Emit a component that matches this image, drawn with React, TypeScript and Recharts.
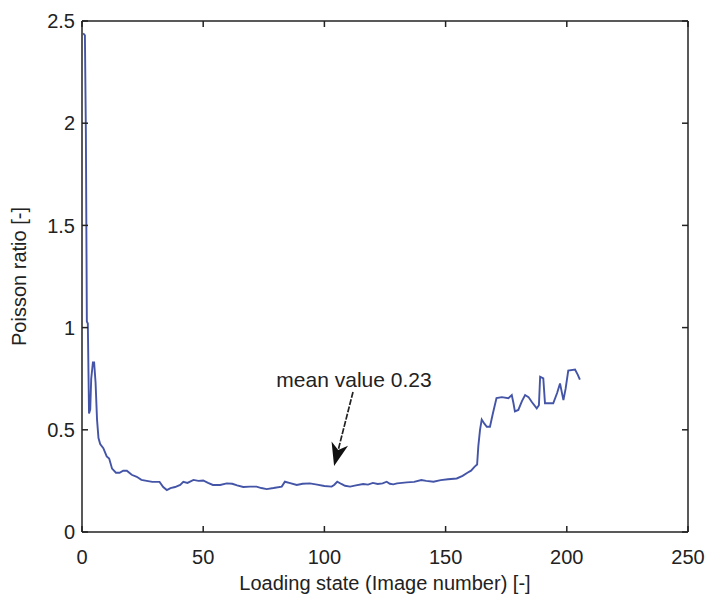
import React from "react";
import { LineChart, Line, XAxis, YAxis, ReferenceLine, Label } from "recharts";

const loadingState = [
  0.5, 1.2, 1.6, 2.0, 2.4, 2.9, 3.4, 3.8, 4.5, 5.0, 5.6, 6.2, 6.8, 7.5, 8.8, 10.2, 11.2, 12.4, 14.0, 15.5,
  17.0, 18.5, 20.5, 22.6, 24.5, 26.7, 29, 32, 33.5, 35, 36.5, 38.4, 40.5, 41.8, 43.5, 46, 48, 50, 52, 54,
  57, 59.7, 62, 64, 66.5, 69.3, 72, 74, 76.2, 79, 82.4, 83.7, 85.5, 88.6, 91, 94, 97, 100, 103, 104,
  105.3, 107, 108.5, 110.6, 113, 116, 118, 120, 122, 124, 125.7, 127, 128.4, 130, 134, 137, 140, 142, 145, 148,
  151, 154.6, 157, 159, 160.5, 162.0, 163.0, 163.5, 164.2, 164.9, 166, 167, 168.3, 169.5, 171, 173.2, 175.9, 177.3, 178.0, 178.6,
  180, 181.5, 182.8, 184.2, 185.5, 187.6, 188.5, 189, 190.3, 191, 194.4, 196, 197.2, 198.6, 199.5, 200.6, 203.4, 204.5, 205.4,
];

const poissonRatio = [
  2.44, 2.43, 1.95, 1.03, 1.02, 0.58, 0.6, 0.75, 0.83, 0.83, 0.73, 0.55, 0.46, 0.43, 0.41, 0.37, 0.36, 0.31, 0.29, 0.29,
  0.3, 0.3, 0.28, 0.27, 0.255, 0.25, 0.245, 0.245, 0.22, 0.205, 0.215, 0.22, 0.23, 0.245, 0.24, 0.255, 0.25, 0.252, 0.24, 0.23,
  0.23, 0.238, 0.236, 0.228, 0.22, 0.222, 0.222, 0.215, 0.21, 0.215, 0.222, 0.246, 0.24, 0.23, 0.236, 0.238, 0.232, 0.225, 0.222, 0.23,
  0.246, 0.235, 0.226, 0.222, 0.228, 0.235, 0.232, 0.24, 0.235, 0.238, 0.246, 0.236, 0.233, 0.238, 0.243, 0.245, 0.254, 0.25, 0.246, 0.254,
  0.258, 0.262, 0.275, 0.29, 0.3, 0.32, 0.33, 0.42, 0.5, 0.55, 0.53, 0.515, 0.515, 0.58, 0.655, 0.66, 0.655, 0.67, 0.63, 0.59,
  0.597, 0.64, 0.67, 0.66, 0.637, 0.605, 0.62, 0.76, 0.752, 0.63, 0.63, 0.68, 0.727, 0.645, 0.7, 0.79, 0.795, 0.77, 0.745,
];

const xTicks = [0, 50, 100, 150, 200, 250];
const yTicks = [0, 0.5, 1, 1.5, 2, 2.5];

const arrowTail = { x: 111.8, y: 0.685 };
const arrowTip = { x: 104, y: 0.323 };
const annotationText = "mean value 0.23";

const xTitle = "Loading state (Image number) [-]";
const yTitle = "Poisson ratio [-]";

const data = loadingState.map((x, i) => ({ x, y: poissonRatio[i] }));

const FONT = "'Liberation Sans', Arial, Helvetica, sans-serif";
const FS = 20;
const AXIS_COLOR = "#222";
const TICK_LEN = 6;
const X_MARGIN = 18;
const Y_MARGIN = 7;

const BottomTick = (p: any) => {
  const { x, y, payload } = p;
  const axisY = y - X_MARGIN;
  return (
    <g>
      <line x1={x} y1={axisY} x2={x} y2={axisY - TICK_LEN} stroke={AXIS_COLOR} strokeWidth={1.5} />
      <text x={x} y={y} dy="0.72em" textAnchor="middle" fontFamily={FONT} fontSize={FS} fill="#222">
        {payload.value}
      </text>
    </g>
  );
};

const LeftTick = (p: any) => {
  const { x, y, payload } = p;
  const axisX = x + Y_MARGIN;
  return (
    <g>
      <line x1={axisX} y1={y} x2={axisX + TICK_LEN} y2={y} stroke={AXIS_COLOR} strokeWidth={1.5} />
      <text x={x} y={y} dy="0.36em" textAnchor="end" fontFamily={FONT} fontSize={FS} fill="#222">
        {payload.value}
      </text>
    </g>
  );
};

const TopTick = (p: any) => {
  const { x, y } = p;
  return <line x1={x} y1={y} x2={x} y2={y + TICK_LEN} stroke={AXIS_COLOR} strokeWidth={1.5} />;
};

const RightTick = (p: any) => {
  const { x, y } = p;
  return <line x1={x} y1={y} x2={x - TICK_LEN} y2={y} stroke={AXIS_COLOR} strokeWidth={1.5} />;
};

const ArrowShape = (props: any) => {
  const { x1, y1, x2, y2 } = props;
  if ([x1, y1, x2, y2].some((v) => typeof v !== "number" || isNaN(v))) return null;
  const dx = x2 - x1;
  const dy = y2 - y1;
  const len = Math.sqrt(dx * dx + dy * dy);
  const ux = dx / len;
  const uy = dy / len;
  const headLen = 23;
  const headW = 8.5;
  const bx = x2 - ux * headLen;
  const by = y2 - uy * headLen;
  const px = -uy;
  const py = ux;
  const notchX = x2 - ux * headLen * 0.72;
  const notchY = y2 - uy * headLen * 0.72;
  return (
    <g>
      <text x={x1 + 1} y={y1 - 5} textAnchor="middle" fontFamily={FONT} fontSize={21} fill="#222">
        {annotationText}
      </text>
      <line x1={x1} y1={y1} x2={notchX} y2={notchY} stroke="#222" strokeWidth={1.7} strokeDasharray="6 1.5" />
      <polygon
        points={`${x2},${y2} ${bx + px * headW},${by + py * headW} ${notchX},${notchY} ${bx - px * headW},${by - py * headW}`}
        fill="#111"
      />
    </g>
  );
};

export default function App() {
  return (
    <div style={{ position: "absolute", left: 0, top: 0, width: 711, height: 594, background: "#fff" }}>
      <LineChart
        width={711}
        height={594}
        data={data}
        margin={{ top: 20, right: 22, left: 0, bottom: 0 }}
        style={{ fontFamily: FONT }}
      >
        <XAxis
          dataKey="x"
          type="number"
          domain={[0, 250]}
          ticks={xTicks}
          height={62}
          tickSize={0}
          tickMargin={X_MARGIN}
          axisLine={{ stroke: AXIS_COLOR, strokeWidth: 1.5 }}
          tickLine={false}
          tick={BottomTick}
          interval={0}
        >
          <Label
            content={(p: any) => {
              const vb = p.viewBox || {};
              return (
                <text x={vb.x + vb.width / 2} y={vb.y + 58} textAnchor="middle" fontFamily={FONT} fontSize={FS} fill="#222">
                  {xTitle}
                </text>
              );
            }}
          />
        </XAxis>
        <XAxis
          xAxisId="top"
          orientation="top"
          dataKey="x"
          type="number"
          domain={[0, 250]}
          ticks={xTicks}
          height={1}
          tickSize={0}
          tickMargin={0}
          axisLine={{ stroke: AXIS_COLOR, strokeWidth: 1.5 }}
          tickLine={false}
          tick={TopTick}
          interval={0}
        />
        <YAxis
          type="number"
          domain={[0, 2.5]}
          ticks={yTicks}
          width={82}
          tickSize={0}
          tickMargin={Y_MARGIN}
          axisLine={{ stroke: AXIS_COLOR, strokeWidth: 1.5 }}
          tickLine={false}
          tick={LeftTick}
          interval={0}
        >
          <Label
            content={(p: any) => {
              const vb = p.viewBox || {};
              const cx = vb.x + 26;
              const cy = vb.y + vb.height / 2;
              return (
                <text
                  x={cx}
                  y={cy}
                  transform={`rotate(-90, ${cx}, ${cy})`}
                  textAnchor="middle"
                  fontFamily={FONT}
                  fontSize={FS}
                  fill="#222"
                >
                  {yTitle}
                </text>
              );
            }}
          />
        </YAxis>
        <YAxis
          yAxisId="right"
          orientation="right"
          type="number"
          domain={[0, 2.5]}
          ticks={yTicks}
          width={1}
          tickSize={0}
          tickMargin={0}
          axisLine={{ stroke: AXIS_COLOR, strokeWidth: 1.5 }}
          tickLine={false}
          tick={RightTick}
          interval={0}
        />
        <Line
          xAxisId="top"
          yAxisId="right"
          dataKey="y"
          type="linear"
          stroke="none"
          strokeWidth={0}
          dot={false}
          activeDot={false}
          isAnimationActive={false}
        />
        <Line
          dataKey="y"
          type="linear"
          stroke="#4455a8"
          strokeWidth={1.9}
          dot={false}
          isAnimationActive={false}
        />
        <ReferenceLine
          segment={[arrowTail, arrowTip]}
          ifOverflow="visible"
          shape={ArrowShape}
        />
      </LineChart>
    </div>
  );
}
